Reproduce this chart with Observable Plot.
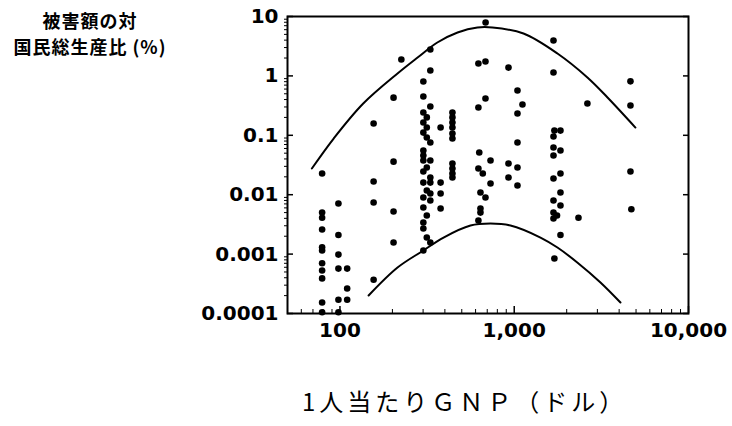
<!DOCTYPE html>
<html><head><meta charset="utf-8">
<script src="https://cdn.jsdelivr.net/npm/d3@7"></script>
<script src="https://cdn.jsdelivr.net/npm/@observablehq/plot@0.6"></script>
<style>
body{margin:0;background:#fff;}
#wrap{position:relative;width:732px;height:426px;overflow:hidden;}
#chart{position:absolute;left:0;top:0;}
.t{position:absolute;font-family:"Noto Sans CJK JP";color:#000;white-space:nowrap;line-height:1;}
</style></head><body>
<div id="wrap">
<div id="chart"></div>
<div class="t" style="left:0;width:180px;text-align:center;top:11px;font-size:18px;font-weight:700;letter-spacing:1px;">被害額の対</div>
<div class="t" style="left:0;width:180px;text-align:center;top:37px;font-size:18px;font-weight:700;letter-spacing:1px;">国民総生産比 (%)</div>
<div class="t" style="left:302px;top:389px;font-size:24px;font-weight:400;letter-spacing:4px;">1人当たりＧＮＰ（ドル）</div>
</div>
<script>
// Axis ticks
const yTicks = [0.0001, 0.001, 0.01, 0.1, 1, 10];
const yTickLabels = ["0.0001", "0.001", "0.01", "0.1", "1", "10"];
const yMinor = [0.0002,0.0003,0.0004,0.0005,0.0006,0.0007,0.0008,0.0009,
  0.002,0.003,0.004,0.005,0.006,0.007,0.008,0.009,
  0.02,0.03,0.04,0.05,0.06,0.07,0.08,0.09,
  0.2,0.3,0.4,0.5,0.6,0.7,0.8,0.9,
  2,3,4,5,6,7,8,9];
const xTicks = [100, 1000, 10000];
const xTickLabels = ["100", "1,000", "10,000"];
const xMinor = [60,70,80,90,200,300,400,500,600,700,800,900,2000,3000,4000,5000,6000,7000,8000,9000];

// Scatter points: GNP per capita (USD) and damage / GNP (%)
const pointGnp = [
  79,79,79,79,79,79,79,79,79,79,79,
  98,98,98,98,98,98,
  110,110,110,
  156,156,156,156,
  203,203,203,203,
  225,
  330,330,301,301,330,
  301,315,301,315,301,315,330,
  301,301,330,301,315,301,330,301,330,315,330,301,330,301,315,301,301,315,330,301,
  378,378,378,378,
  442,442,442,442,442,442,442,442,442,442,
  685,623,684,684,623,630,731,623,660,731,640,684,640,640,623,
  927,1044,1115,1044,1044,927,1044,927,1044,
  1680,1680,2630,4645,4645,4645,4700,
  1842,1700,1680,1680,1842,1680,1842,1680,1842,1680,1842,1680,1760,1680,2337,1842,1700
];
const pointRatio = [
  0.0228,0.005,0.0041,0.0026,0.0013,0.00115,0.0007,0.00053,0.00039,0.000153,0.000105,
  0.0071,0.0021,0.00098,0.00057,0.00017,0.000105,
  0.00057,0.000264,0.00017,
  0.158,0.0167,0.0074,0.00037,
  0.43,0.036,0.0052,0.00157,
  1.89,
  2.78,1.23,0.805,0.45,0.305,
  0.242,0.2,0.164,0.135,0.111,0.0918,0.0757,
  0.0555,0.0457,0.0377,0.0377,0.0287,0.0246,0.0195,0.016,0.016,0.0118,0.0105,0.00897,0.00798,0.0061,0.00447,0.0034,0.0027,0.0019,0.00157,0.00115,
  0.135,0.016,0.0105,0.00586,
  0.242,0.2,0.164,0.135,0.107,0.0883,0.0335,0.0276,0.0228,0.0195,
  7.92,1.62,1.75,0.417,0.294,0.0513,0.0377,0.0276,0.0228,0.0154,0.0109,0.00897,0.00586,0.005,0.00368,
  1.38,0.568,0.33,0.233,0.0757,0.0335,0.0287,0.0195,0.0143,
  3.94,1.14,0.343,0.81,0.318,0.0246,0.0057,
  0.12,0.12,0.0955,0.0624,0.0555,0.0457,0.0228,0.0187,0.0109,0.00798,0.00658,0.005,0.00447,0.00397,0.0041,0.0021,0.000843
];

// Envelope curves
const upperGnp = [69,92,136,214,279,362,473,615,750,1130,1770,2630,3430,4960];
const upperRatio = [0.0276,0.0883,0.343,1.10,2.04,3.65,5.38,6.53,6.53,5.17,2.38,0.94,0.433,0.135];
const lowerGnp = [146,214,301,393,561,731,952,1415,1770,2300,3125,4070];
const lowerRatio = [0.000201,0.000594,0.00115,0.0019,0.00303,0.00327,0.00303,0.0019,0.00129,0.000723,0.000333,0.000153];

const points = pointGnp.map((g, i) => ({gnp: g, ratio: pointRatio[i]}));
const upper = upperGnp.map((g, i) => ({gnp: g, ratio: upperRatio[i]}));
const lower = lowerGnp.map((g, i) => ({gnp: g, ratio: lowerRatio[i]}));

const font = {fontFamily: "DejaVu Sans", fontWeight: "bold", fontSize: 20};

const chart = Plot.plot({
  width: 732, height: 426,
  marginLeft: 287, marginRight: 44, marginTop: 16, marginBottom: 113,
  x: {type: "log", domain: [50, 10000]},
  y: {type: "log", domain: [0.0001, 10]},
  style: {background: "transparent", color: "black"},
  marks: [
    Plot.axisY(yMinor, {tickSize: 3, tickFormat: () => "", label: null}),
    Plot.axisY(yTicks, {tickSize: -6, tickFormat: () => "", label: null, strokeWidth: 1.5}),
    Plot.axisY(yTicks, {anchor: "right", tickSize: -6, tickFormat: () => "", label: null, strokeWidth: 1.5}),
    Plot.axisY(yTicks, {tickSize: 0, tickPadding: 9, tickFormat: d => yTickLabels[yTicks.indexOf(d)], label: null, ...font}),
    Plot.axisX(xMinor, {tickSize: -4, tickFormat: () => "", label: null}),
    Plot.axisX(xTicks, {tickSize: -7, tickFormat: () => "", label: null, strokeWidth: 1.5}),
    Plot.axisX(xTicks, {tickSize: 0, tickPadding: 9, tickFormat: d => xTickLabels[xTicks.indexOf(d)], label: null, ...font}),
    Plot.frame({stroke: "black", strokeWidth: 2}),
    Plot.line(upper, {x: "gnp", y: "ratio", curve: "catmull-rom", stroke: "black", strokeWidth: 2}),
    Plot.line(lower, {x: "gnp", y: "ratio", curve: "catmull-rom", stroke: "black", strokeWidth: 2}),
    Plot.dot(points, {x: "gnp", y: "ratio", r: 3.3, fill: "black", stroke: null})
  ]
});
document.getElementById("chart").appendChild(chart);
</script>
</body></html>
